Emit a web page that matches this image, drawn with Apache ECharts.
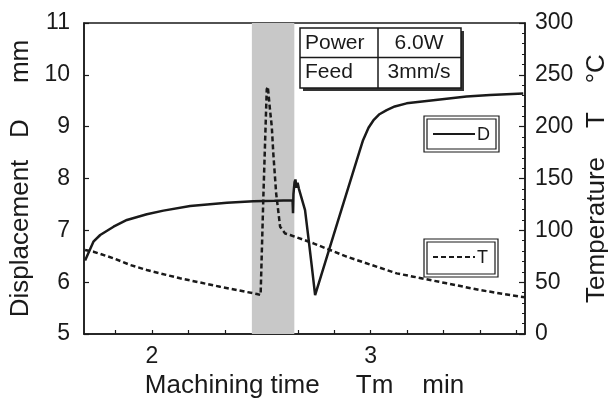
<!DOCTYPE html>
<html>
<head>
<meta charset="utf-8">
<script src="https://cdn.jsdelivr.net/npm/echarts@6/dist/echarts.min.js"></script>
<style>
  html, body { margin: 0; padding: 0; background: #fff; }
  #chart { width: 608px; height: 399px; }
</style>
</head>
<body>
<div id="chart"></div>
<script>
// displacement D (mm) vs machining time (min)
const timeD = [1.695, 1.733, 1.764, 1.825, 1.886, 1.977, 2.053, 2.175, 2.343, 2.464, 2.560, 2.643,
  2.645, 2.647, 2.652, 2.656, 2.661, 2.666, 2.672, 2.680, 2.700, 2.715, 2.731, 2.746, 2.848,
  2.951, 2.965, 2.990, 3.012, 3.040, 3.073, 3.110, 3.164, 3.286, 3.438, 3.545, 3.697];
const dispD = [6.42, 6.78, 6.91, 7.07, 7.20, 7.31, 7.38, 7.47, 7.53, 7.56, 7.57, 7.58,
  7.33, 7.70, 7.93, 7.98, 7.82, 7.92, 7.80, 7.82, 7.39, 6.87, 6.30, 5.75, 7.15,
  8.55, 8.74, 8.98, 9.12, 9.24, 9.32, 9.39, 9.45, 9.51, 9.58, 9.61, 9.64];

// temperature T (°C) vs machining time (min)
const timeT = [1.695, 1.733, 1.825, 1.901, 1.977, 2.129, 2.312, 2.480, 2.497, 2.502, 2.510, 2.525,
  2.530, 2.540, 2.548, 2.555, 2.568, 2.586, 2.609, 2.632, 2.738, 2.890, 3.119, 3.195, 3.347,
  3.499, 3.682, 3.704];
const tempT = [81, 79.4, 73, 66.6, 61.7, 53.7, 45.6, 38.6, 37.6, 39.2, 135.7, 236,
  238.5, 216, 200, 174, 135.7, 103.5, 97, 95.5, 87.5, 74.6, 58.5, 55.3, 48.9,
  42.4, 36, 35.5];

// shaded machining window
const bandStart = 2.457;
const bandEnd = 2.651;

const xLabels = [2, 3];
const xTicks = [1.8333, 2, 2.1667, 2.3333, 2.5, 2.6667, 2.8333, 3, 3.1667, 3.3333, 3.5, 3.6667];

const FONT = "'Liberation Sans', Arial, sans-serif";
const INK = "#1a1a1a";

const chart = echarts.init(document.getElementById("chart"));

const legendBox = (x, y, w, h) => [
  { type: "rect", shape: { x, y, width: w, height: h }, style: { fill: "#fff", stroke: INK, lineWidth: 1.2 }, z: 100 },
  { type: "rect", shape: { x: x + 3, y: y + 3, width: w - 6, height: h - 6 }, style: { fill: "none", stroke: INK, lineWidth: 1.2 }, z: 101 },
];

const titleStyle = { color: INK, fontSize: 26, fontFamily: FONT };
const labelStyle = { color: INK, fontSize: 23, fontFamily: FONT };

chart.setOption({
  animation: false,
  backgroundColor: "#fff",
  grid: {
    left: 84, right: 83, top: 23, bottom: 65,
    outerBoundsMode: "none",
    show: true, borderColor: INK, borderWidth: 1.5, backgroundColor: "transparent",
  },
  xAxis: {
    type: "value",
    min: 1.69,
    max: 3.705,
    name: "Machining time     Tm    min",
    nameLocation: "middle",
    nameGap: 36,
    nameTextStyle: titleStyle,
    axisLine: { lineStyle: { color: INK, width: 1.5 } },
    axisTick: { inside: true, length: 4, customValues: xTicks, lineStyle: { color: INK, width: 1.2 } },
    axisLabel: { customValues: xLabels, ...labelStyle, margin: 11 },
    splitLine: { show: false },
  },
  yAxis: [
    {
      type: "value",
      min: 5,
      max: 11,
      interval: 1,
      position: "left",
      name: "Displacement   D     mm",
      nameLocation: "middle",
      nameRotate: 90,
      nameGap: 48,
      nameTextStyle: titleStyle,
      axisLine: { show: true, lineStyle: { color: INK, width: 1.5 } },
      axisTick: { inside: true, length: 5, lineStyle: { color: INK, width: 1.2 } },
      axisLabel: { ...labelStyle, margin: 14 },
      splitLine: { show: false },
    },
    {
      type: "value",
      min: 0,
      max: 300,
      interval: 50,
      position: "right",
      name: "Temperature    T    °C",
      nameLocation: "middle",
      nameRotate: 90,
      nameGap: 56,
      nameTextStyle: titleStyle,
      axisLine: { show: true, lineStyle: { color: INK, width: 1.5 } },
      axisTick: { inside: true, length: 6, lineStyle: { color: INK, width: 1.2 } },
      minorTick: { show: true, splitNumber: 5, length: 3, lineStyle: { color: INK, width: 1 } },
      axisLabel: { ...labelStyle, margin: 10 },
      splitLine: { show: false },
    },
  ],
  series: [
    {
      name: "D",
      type: "line",
      yAxisIndex: 0,
      data: timeD.map((t, i) => [t, dispD[i]]),
      showSymbol: false,
      lineStyle: { color: INK, width: 2.5 },
      z: 3,
      markArea: {
        silent: true,
        itemStyle: { color: "#c8c8c8" },
        data: [[{ xAxis: bandStart }, { xAxis: bandEnd }]],
      },
    },
    {
      name: "T",
      type: "line",
      yAxisIndex: 1,
      data: timeT.map((t, i) => [t, tempT[i]]),
      showSymbol: false,
      lineStyle: { color: INK, width: 2.5, type: [5, 3] },
      z: 4,
    },
  ],
  graphic: [
    // condition table
    { type: "rect", shape: { x: 303, y: 31, width: 161, height: 60 }, style: { fill: "#333" }, z: 100 },
    { type: "rect", shape: { x: 300, y: 28, width: 161, height: 60 }, style: { fill: "#fff", stroke: INK, lineWidth: 1.5 }, z: 101 },
    { type: "line", shape: { x1: 300, y1: 57.5, x2: 461, y2: 57.5 }, style: { stroke: INK, lineWidth: 1.5 }, z: 102 },
    { type: "line", shape: { x1: 378, y1: 28, x2: 378, y2: 88 }, style: { stroke: INK, lineWidth: 1.5 }, z: 102 },
    { type: "text", x: 305, y: 43, style: { text: "Power", font: "21px " + FONT, fill: INK, verticalAlign: "middle" }, z: 103 },
    { type: "text", x: 419, y: 43, style: { text: "6.0W", font: "21px " + FONT, fill: INK, align: "center", verticalAlign: "middle" }, z: 103 },
    { type: "text", x: 305, y: 72, style: { text: "Feed", font: "21px " + FONT, fill: INK, verticalAlign: "middle" }, z: 103 },
    { type: "text", x: 419, y: 72, style: { text: "3mm/s", font: "21px " + FONT, fill: INK, align: "center", verticalAlign: "middle" }, z: 103 },
    // legend D
    ...legendBox(424, 116, 75, 36),
    { type: "line", shape: { x1: 433, y1: 134, x2: 475, y2: 134 }, style: { stroke: INK, lineWidth: 1.8 }, z: 102 },
    { type: "text", x: 477, y: 135, style: { text: "D", font: "18px " + FONT, fill: INK, verticalAlign: "middle" }, z: 102 },
    // legend T
    ...legendBox(424, 239, 74, 38),
    { type: "line", shape: { x1: 433, y1: 257, x2: 475, y2: 257 }, style: { stroke: INK, lineWidth: 1.8, lineDash: [5, 3] }, z: 102 },
    { type: "text", x: 477, y: 258, style: { text: "T", font: "18px " + FONT, fill: INK, verticalAlign: "middle" }, z: 102 },
  ],
});
</script>
</body>
</html>
